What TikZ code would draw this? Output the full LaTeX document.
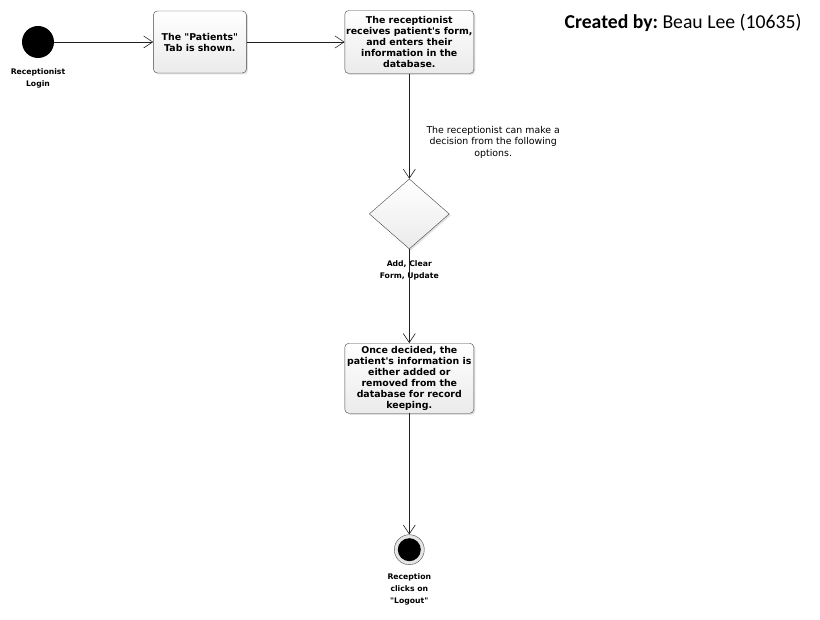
\documentclass[tikz,border=0pt]{standalone}
\usepackage{fontspec}
\newfontfamily\umlfont{DejaVu Sans}
\newfontfamily\titlefont{Carlito}
\usetikzlibrary{shapes.geometric,arrows.meta,positioning,shadows}
\tikzset{
  action/.style = {draw=gray!55!black, rounded corners=4pt, top color=white, bottom color=gray!16,
    drop shadow={shadow xshift=1.5pt, shadow yshift=-1.5pt, opacity=0.25},
    align=center, inner sep=0pt, font=\umlfont\bfseries\fontsize{9.4}{11}\selectfont},
  choicebox/.style = {draw=gray!55!black, diamond, top color=white, bottom color=gray!16,
    drop shadow={shadow xshift=1.5pt, shadow yshift=-1.5pt, opacity=0.25},
    minimum width=80pt, minimum height=70pt, inner sep=0pt},
  caption/.style = {align=center, inner sep=0pt, font=\umlfont\bfseries\fontsize{7.7}{12}\selectfont},
  hint/.style = {align=center, inner sep=0pt, font=\umlfont\fontsize{9.4}{11.5}\selectfont},
  line/.style = {draw=gray!25!black, line width=0.6pt, -{Straight Barb[length=9pt,width=12pt]}}
}
\begin{document}
\begin{tikzpicture}[x=1pt, y=1pt, node distance=99pt]
\useasboundingbox (0,0) rectangle (820,-620);

        \node[circle, fill=black, minimum size=32pt, inner sep=0pt] (start) at (38,-42) {};
        \node[caption, below=10pt of start] (startlbl) {Receptionist\\Login};
        \node[action, minimum width=93pt, minimum height=62pt, right=99pt of start] (tab) {The "Patients"\\Tab is shown.};
        \node[action, minimum width=129pt, minimum height=63pt, right=98pt of tab] (form) {The receptionist\\receives patient's form,\\and enters their\\information in the\\database.};
        \node[choicebox, below=105pt of form] (choice) {};
        \node[hint, below right=52pt and 17pt of form.south] (choicehint) {The receptionist can make a\\decision from the following\\options.};
        \node[caption, below=11pt of choice] (choicelbl) {Add, Clear\\Form, Update};
        \node[action, minimum width=129pt, minimum height=70pt, below=94pt of choice] (record) {Once decided, the\\patient's information is\\either added or\\removed from the\\database for record\\keeping.};
        \node[circle, draw=gray!60!black, fill=gray!20, minimum size=30pt, inner sep=0pt, below=121pt of record] (stop) {};
        \node[circle, fill=black, minimum size=23pt, inner sep=0pt] (stopdot) at (stop) {};
        \node[caption, below=9pt of stop] (stoplbl) {Reception\\clicks on\\"Logout"};

        \node[anchor=east, font=\titlefont\fontsize{19.7}{24}\selectfont] (credit) at (805,-23) {\textbf{Created by:}~Beau Lee (10635)};

        \path [line] (start) edge (tab);
        \path [line] (tab) edge (form);
        \path [line] (form) edge (choice);
        \path [line] (choice) edge (record);
        \path [line] (record) edge (stop);

\end{tikzpicture}
\end{document}
